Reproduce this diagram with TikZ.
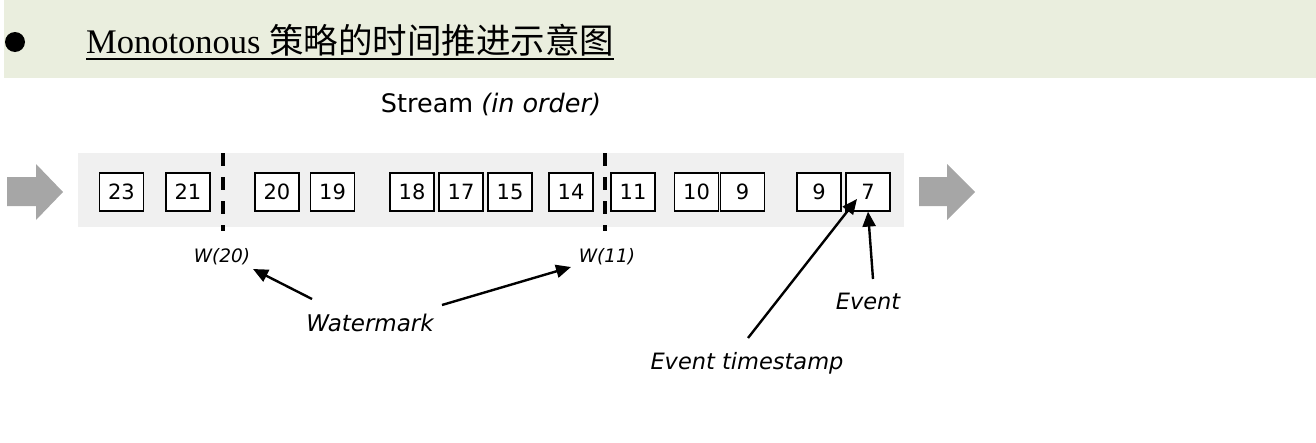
\documentclass[tikz,border=0pt]{standalone}
\usepackage{fontspec}
\setmainfont{Liberation Serif}
\newfontfamily\cjk{Noto Sans CJK SC}
\newfontfamily\vsans{DejaVu Sans}
\usetikzlibrary{arrows.meta}
\definecolor{headband}{RGB}{234,238,222}
\definecolor{streamband}{RGB}{240,240,240}
\definecolor{flowgray}{RGB}{166,166,166}
\tikzset{
  ev/.style={draw=black, line width=1.2pt, fill=white, minimum width=44pt, minimum height=38pt, inner sep=0pt,
    font=\vsans\fontsize{21}{25}\selectfont},
  wmline/.style={draw=black, line width=3.5pt, dash pattern=on 13pt off 11pt},
  pointer/.style={draw=black, line width=2.4pt, -{Triangle[length=15pt,width=13pt]}},
  lbl/.style={inner sep=0pt, font=\vsans\itshape\fontsize{22.5}{26}\selectfont},
  wlbl/.style={inner sep=0pt, font=\vsans\itshape\fontsize{18.5}{22}\selectfont},
}
\begin{document}
\begin{tikzpicture}[x=1pt,y=-1pt]
\useasboundingbox (0,0) rectangle (1316,442);
% header band
\fill[headband] (4,0) rectangle (1316,78);
\fill[black] (15,42) circle (10);
\node[anchor=base west, inner sep=0pt, font=\fontsize{34.5}{40}\selectfont] (title) at (86,53)
  {Monotonous {\cjk 策略的时间推进示意图}};
\draw[line width=1.6pt] (title.base west |- 0,59) -- (title.base east |- 0,59);
% stream title
\node[inner sep=0pt, font=\vsans\fontsize{25.5}{30}\selectfont] (stream) at (491,104) {Stream \textit{(in order)}};
% stream band
\fill[streamband] (78,153) rectangle (904,227);
% flow arrows
\fill[flowgray] (7,177) -- (36,177) -- (36,164) -- (63,192) -- (36,220) -- (36,206) -- (7,206) -- cycle;
\fill[flowgray] (919,177) -- (947,177) -- (947,164) -- (975,192) -- (947,220) -- (947,206) -- (919,206) -- cycle;
% events
\node[ev] (e23) at (121.5,192) {23};
\node[ev] (e21) at (188,192) {21};
\node[ev] (e20) at (277,192) {20};
\node[ev] (e19) at (332.5,192) {19};
\node[ev] (e18) at (412,192) {18};
\node[ev] (e17) at (461,192) {17};
\node[ev] (e15) at (510,192) {15};
\node[ev] (e14) at (571,192) {14};
\node[ev] (e11) at (633,192) {11};
\node[ev] (e10) at (696.5,192) {10};
\node[ev] (e9a) at (742.5,192) {9};
\node[ev] (e9b) at (819,192) {9};
\node[ev] (e7) at (868,192) {7};
% watermarks
\coordinate (w20top) at (223,153);
\coordinate (w20bot) at (223,231);
\coordinate (w11top) at (605,153);
\coordinate (w11bot) at (605,231);
\draw[wmline] (w20top) -- (w20bot);
\draw[wmline] (w11top) -- (w11bot);
% labels
\node[wlbl] (lw20) at (222,257) {W(20)};
\node[wlbl] (lw11) at (607,257) {W(11)};
\node[font=\vsans\itshape\fontsize{23}{27}\selectfont, inner sep=0pt] (wm) at (370,323) {Watermark};
\node[lbl] (evl) at (868,301) {Event};
\node[lbl] (ets) at (747,363) {Event timestamp};
% pointers
\coordinate (wmt1) at (312,299);
\coordinate (wmt2) at (442,305);
\coordinate (w20tip) at (253,269);
\coordinate (w11tip) at (571,267);
\coordinate (etst) at (748,338);
\coordinate (tstip) at (857,199);
\coordinate (evt) at (873,279);
\draw[pointer] (wmt1) -- (w20tip);
\draw[pointer] (wmt2) -- (w11tip);
\draw[pointer] (etst) -- (tstip);
\draw[pointer] (evt) -- (e7.south);
\end{tikzpicture}
\end{document}
